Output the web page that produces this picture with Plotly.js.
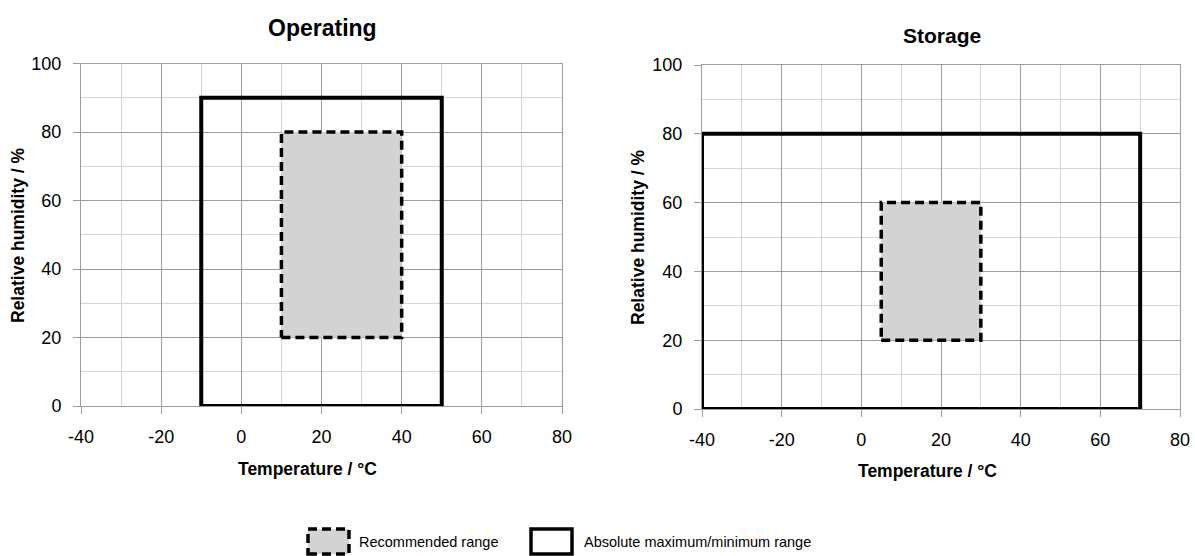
<!DOCTYPE html>
<html>
<head>
<meta charset="utf-8">
<script src="https://cdn.plot.ly/plotly-3.0.1.min.js"></script>
<style>html,body{margin:0;padding:0;background:#fff;}#chart{width:1195px;height:556px;}</style>
</head>
<body>
<div id="chart"></div>
<script>
// Operating ranges (temperature °C, relative humidity %)
const opAbsTemp = [-10, 50];
const opAbsRH = [0, 90];
const opRecTemp = [10, 40];
const opRecRH = [20, 80];
// Storage ranges
const stAbsTemp = [-40, 70];
const stAbsRH = [0, 80];
const stRecTemp = [5, 30];
const stRecRH = [20, 60];
// Axes
const tempRange = [-40, 80];
const rhRange = [0, 100];
const tempTicks = [-40, -20, 0, 20, 40, 60, 80];
const tempTickText = ["-40", "-20", "0", "20", "40", "60", "80"];
const rhTicks = [0, 20, 40, 60, 80, 100];
const rhTickText = ["0", "20", "40", "60", "80", "100"];
const titles = ["Operating", "Storage"];
const xTitle = "Temperature / °C";
const yTitle = "Relative humidity / %";
const legendLabels = ["Recommended range", "Absolute maximum/minimum range"];

function rectX(t) { return [t[0], t[1], t[1], t[0], t[0]]; }
function rectY(r) { return [r[0], r[0], r[1], r[1], r[0]]; }

const FONT = "Liberation Sans, Arial, sans-serif";
const MAJOR = '#9c9c9c';
const MINOR = '#d6d6d6';
const DASH = '9px,5px';

const recStyle = {mode: 'lines', fill: 'toself', fillcolor: '#d3d3d3', line: {color: '#000', width: 3.5, dash: DASH}, hoverinfo: 'skip', showlegend: false};
const absStyle = {mode: 'lines', fill: 'none', line: {color: '#000', width: 4}, hoverinfo: 'skip', showlegend: false};

const traces = [
  Object.assign({x: rectX(opRecTemp), y: rectY(opRecRH), xaxis: 'x', yaxis: 'y', name: legendLabels[0]}, recStyle),
  Object.assign({x: rectX(opAbsTemp), y: rectY(opAbsRH), xaxis: 'x', yaxis: 'y', name: legendLabels[1]}, absStyle),
  Object.assign({x: rectX(stRecTemp), y: rectY(stRecRH), xaxis: 'x2', yaxis: 'y2', name: legendLabels[0]}, recStyle),
  Object.assign({x: rectX(stAbsTemp), y: rectY(stAbsRH), xaxis: 'x2', yaxis: 'y2', name: legendLabels[1]}, absStyle)
];

function xAxis(domain, anchor) {
  return {
    domain: domain, anchor: anchor, range: tempRange,
    tickmode: 'array', tickvals: tempTicks, ticktext: tempTickText,
    showgrid: true, gridcolor: MAJOR, gridwidth: 1,
    minor: {dtick: 10, tick0: -40, showgrid: true, gridcolor: MINOR, gridwidth: 1, ticks: ''},
    zeroline: false, showline: true, mirror: true, linecolor: MAJOR, linewidth: 1,
    ticks: 'outside', ticklen: 7, tickcolor: MAJOR, ticklabelstandoff: 7,
    tickfont: {family: FONT, size: 18, color: '#000'},
    fixedrange: true
  };
}
function yAxis(domain, anchor) {
  return {
    domain: domain, anchor: anchor, range: rhRange,
    tickmode: 'array', tickvals: rhTicks, ticktext: rhTickText,
    showgrid: true, gridcolor: MAJOR, gridwidth: 1,
    minor: {dtick: 10, tick0: 0, showgrid: true, gridcolor: MINOR, gridwidth: 1, ticks: ''},
    zeroline: false, showline: true, mirror: true, linecolor: MAJOR, linewidth: 1,
    ticks: 'outside', ticklen: 7, tickcolor: MAJOR, ticklabelstandoff: 8,
    tickfont: {family: FONT, size: 18, color: '#000'},
    fixedrange: true
  };
}

function py(pix) { return 1 - pix / 556; }
function px(pix) { return pix / 1195; }

const layout = {
  width: 1195, height: 556,
  margin: {l: 0, r: 0, t: 0, b: 0},
  paper_bgcolor: '#fff', plot_bgcolor: '#fff',
  showlegend: false,
  xaxis: xAxis([px(81), px(562)], 'y'),
  yaxis: yAxis([py(406), py(63.5)], 'x'),
  xaxis2: xAxis([px(702), px(1180)], 'y2'),
  yaxis2: yAxis([py(409), py(65)], 'x2'),
  annotations: [
    {text: '<b>' + titles[0] + '</b>', xref: 'paper', yref: 'paper', x: px(322), y: py(28), xanchor: 'center', yanchor: 'middle', showarrow: false, font: {family: FONT, size: 23, color: '#000'}},
    {text: '<b>' + titles[1] + '</b>', xref: 'paper', yref: 'paper', x: px(942), y: py(35), xanchor: 'center', yanchor: 'middle', showarrow: false, font: {family: FONT, size: 21, color: '#000'}},
    {text: '<b>' + xTitle + '</b>', xref: 'paper', yref: 'paper', x: px(307), y: py(469), xanchor: 'center', yanchor: 'middle', showarrow: false, font: {family: FONT, size: 17.5, color: '#000'}},
    {text: '<b>' + xTitle + '</b>', xref: 'paper', yref: 'paper', x: px(927), y: py(471), xanchor: 'center', yanchor: 'middle', showarrow: false, font: {family: FONT, size: 17.5, color: '#000'}},
    {text: '<b>' + yTitle + '</b>', xref: 'paper', yref: 'paper', x: px(18), y: py(236), xanchor: 'center', yanchor: 'middle', textangle: -90, showarrow: false, font: {family: FONT, size: 17.5, color: '#000'}},
    {text: '<b>' + yTitle + '</b>', xref: 'paper', yref: 'paper', x: px(638), y: py(238), xanchor: 'center', yanchor: 'middle', textangle: -90, showarrow: false, font: {family: FONT, size: 17.5, color: '#000'}},
    {text: legendLabels[0], xref: 'paper', yref: 'paper', x: px(357), y: py(542), xanchor: 'left', yanchor: 'middle', showarrow: false, font: {family: FONT, size: 14.5, color: '#000'}},
    {text: legendLabels[1], xref: 'paper', yref: 'paper', x: px(582), y: py(542), xanchor: 'left', yanchor: 'middle', showarrow: false, font: {family: FONT, size: 14.5, color: '#000'}}
  ],
  shapes: [
    {type: 'rect', xref: 'paper', yref: 'paper', x0: px(308), x1: px(349), y0: py(554), y1: py(529), fillcolor: '#d3d3d3', line: {color: '#000', width: 3.5, dash: DASH}},
    {type: 'rect', xref: 'paper', yref: 'paper', x0: px(531), x1: px(572), y0: py(554), y1: py(529), fillcolor: '#fff', line: {color: '#000', width: 3.5}}
  ]
};

Plotly.newPlot('chart', traces, layout, {displayModeBar: false, staticPlot: true});
</script>
</body>
</html>
